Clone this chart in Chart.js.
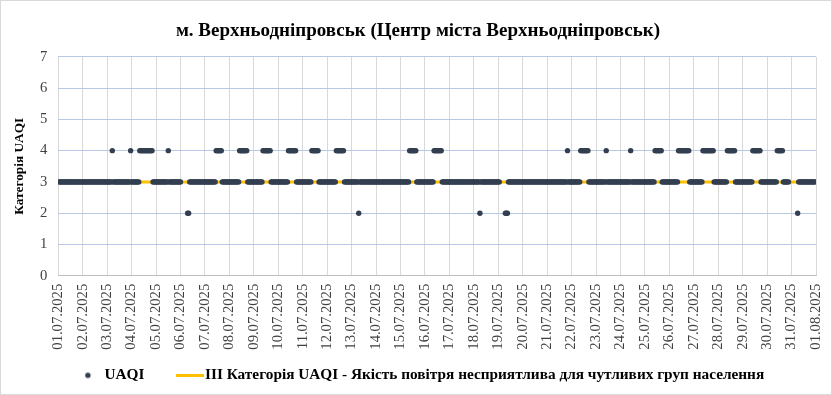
<!DOCTYPE html>
<html>
<head>
<meta charset="utf-8">
<script src="https://cdn.jsdelivr.net/npm/chart.js@4.4.0/dist/chart.umd.min.js"></script>
<style>
  html, body { margin: 0; padding: 0; background: #fff; }
  #chart { display: block; }
</style>
</head>
<body>
<canvas id="chart" width="832" height="395"></canvas>
<script>
// day labels on the x axis (one tick every 24 hours)
const dayLabels = [
  '01.07.2025','02.07.2025','03.07.2025','04.07.2025','05.07.2025','06.07.2025','07.07.2025','08.07.2025',
  '09.07.2025','10.07.2025','11.07.2025','12.07.2025','13.07.2025','14.07.2025','15.07.2025','16.07.2025',
  '17.07.2025','18.07.2025','19.07.2025','20.07.2025','21.07.2025','22.07.2025','23.07.2025','24.07.2025',
  '25.07.2025','26.07.2025','27.07.2025','28.07.2025','29.07.2025','30.07.2025','31.07.2025','01.08.2025'
];

// hourly UAQI category, one row per day, 4 blocks of 6 hours; '-' = no data
const uaqiByDay = [
  '333333 333333 333333 333333', // 01.07
  '333333 333333 333333 333333', // 02.07
  '333334 333333 333333 333334', // 03.07
  '333333 334444 444444 444333', // 04.07
  '333333 333333 433333 333333', // 05.07
  '3----- -22333 333333 333333', // 06.07
  '333333 333334 444443 333333', // 07.07
  '333333 333344 444444 333333', // 08.07
  '333333 333444 444443 333333', // 09.07
  '333333 333344 444444 333333', // 10.07
  '333333 333444 444433 333333', // 11.07
  '333333 333444 444443 333333', // 12.07
  '333333 323333 333333 333333', // 13.07
  '333333 333333 333333 333333', // 14.07
  '333333 333444 444433 333333', // 15.07
  '333333 333444 444443 333333', // 16.07
  '333333 333333 333333 333333', // 17.07
  '333333 233333 333333 333333', // 18.07
  '33---- -22233 333333 333333', // 19.07
  '333333 333333 333333 333333', // 20.07
  '333333 333333 333333 334333', // 21.07
  '333333 333444 444443 333333', // 22.07
  '333333 333343 333333 333333', // 23.07
  '333333 333343 333333 333333', // 24.07
  '333333 333344 444443 333333', // 25.07
  '333333 333444 444444 443333', // 26.07
  '333333 333444 444444 443333', // 27.07
  '333333 333444 444443 333333', // 28.07
  '333333 333344 444444 333333', // 29.07
  '333333 333344 444433 3333--', // 30.07
  '------ 233333 333333 333333'  // 31.07
];

// III category reference line
const categoryLevel = 3;
const yTicksMax = 7;

const uaqiLabel = 'UAQI';
const categoryLabel = 'III Категорія UAQI - Якість повітря несприятлива для чутливих груп населення';
const chartTitle = 'м. Верхньодніпровськ (Центр міста Верхньодніпровськ)';

const serif = "'Liberation Serif', 'Times New Roman', serif";
const dotColor = '#333f50';
const lineColor = '#ffc000';

const uaqiPoints = [];
uaqiByDay.forEach((row, d) => {
  const hours = row.replace(/ /g, '');
  for (let h = 0; h < hours.length; h++) {
    const ch = hours[h];
    uaqiPoints.push({ x: d * 24 + h, y: ch === '-' ? null : Number(ch) });
  }
});
const lastHour = uaqiPoints.length - 1;
const categoryLine = [{ x: 0, y: categoryLevel }, { x: lastHour, y: categoryLevel }];

// legend icons
const dotIcon = document.createElement('canvas');
dotIcon.width = 34; dotIcon.height = 8;
let ic = dotIcon.getContext('2d');
ic.fillStyle = dotColor;
ic.beginPath(); ic.arc(29.6, 4, 2.7, 0, Math.PI * 2); ic.fill();

const lineIcon = document.createElement('canvas');
lineIcon.width = 56; lineIcon.height = 3;
ic = lineIcon.getContext('2d');
ic.fillStyle = lineColor;
ic.fillRect(28, 0, 28, 3);

const frame = {
  id: 'frame',
  afterLayout(chart) {
    // nudge legend a bit to the left
    if (chart.legend) { chart.legend.left -= 9; chart.legend.right -= 9; }
  },
  beforeDraw(chart) {
    const c = chart.ctx;
    c.save(); c.fillStyle = '#fff'; c.fillRect(0, 0, chart.width, chart.height); c.restore();
  },
  afterDraw(chart) {
    const c = chart.ctx;
    c.save(); c.strokeStyle = '#d9d9d9'; c.lineWidth = 1;
    c.strokeRect(0.5, 0.5, chart.width - 1, chart.height - 1); c.restore();
  }
};

new Chart(document.getElementById('chart'), {
  type: 'line',
  data: {
    datasets: [
      {
        label: uaqiLabel,
        data: uaqiPoints,
        showLine: false,
        pointRadius: 2.7,
        pointHoverRadius: 2.7,
        pointBorderWidth: 0,
        pointBackgroundColor: dotColor,
        pointBorderColor: dotColor
      },
      {
        label: categoryLabel,
        data: categoryLine,
        borderColor: lineColor,
        backgroundColor: lineColor,
        borderWidth: 3,
        pointRadius: 0,
        fill: false
      }
    ]
  },
  options: {
    responsive: false,
    animation: false,
    devicePixelRatio: 1,
    layout: { padding: { top: 10, right: 0, bottom: 2, left: 4 } },
    scales: {
      x: {
        type: 'linear',
        min: 0,
        max: dayLabels.length * 24 - 24,
        grid: { color: '#d9d9d9', drawTicks: false },
        border: { color: '#bfbfbf' },
        afterFit(scale) { scale.paddingRight = 16; },
        ticks: {
          stepSize: 24,
          autoSkip: false,
          minRotation: 90,
          maxRotation: 90,
          padding: 8,
          color: '#404040',
          font: { family: serif, size: 14.67 },
          callback: v => dayLabels[v / 24]
        }
      },
      y: {
        min: 0,
        max: yTicksMax,
        grid: { color: '#b8c8e4', drawTicks: false },
        border: { display: false },
        ticks: { stepSize: 1, padding: 11, color: '#404040', font: { family: serif, size: 14.67 } },
        title: {
          display: true,
          text: 'Категорія UAQI',
          color: '#000',
          font: { family: serif, size: 13.33, weight: 'bold' },
          padding: { top: 8, bottom: 1 }
        }
      }
    },
    plugins: {
      title: {
        display: true,
        text: chartTitle,
        color: '#000',
        font: { family: serif, size: 19, weight: 'bold' },
        padding: { top: 10, bottom: 14 }
      },
      legend: {
        position: 'bottom',
        labels: {
          usePointStyle: true,
          pointStyleWidth: 43,
          padding: 10,
          color: '#000',
          font: { family: serif, size: 15.3, weight: 'bold' },
          generateLabels(chart) {
            const items = Chart.defaults.plugins.legend.labels.generateLabels(chart);
            items[0].pointStyle = dotIcon;
            items[1].pointStyle = lineIcon;
            return items;
          }
        }
      },
      tooltip: { enabled: false }
    }
  },
  plugins: [frame]
});
</script>
</body>
</html>
